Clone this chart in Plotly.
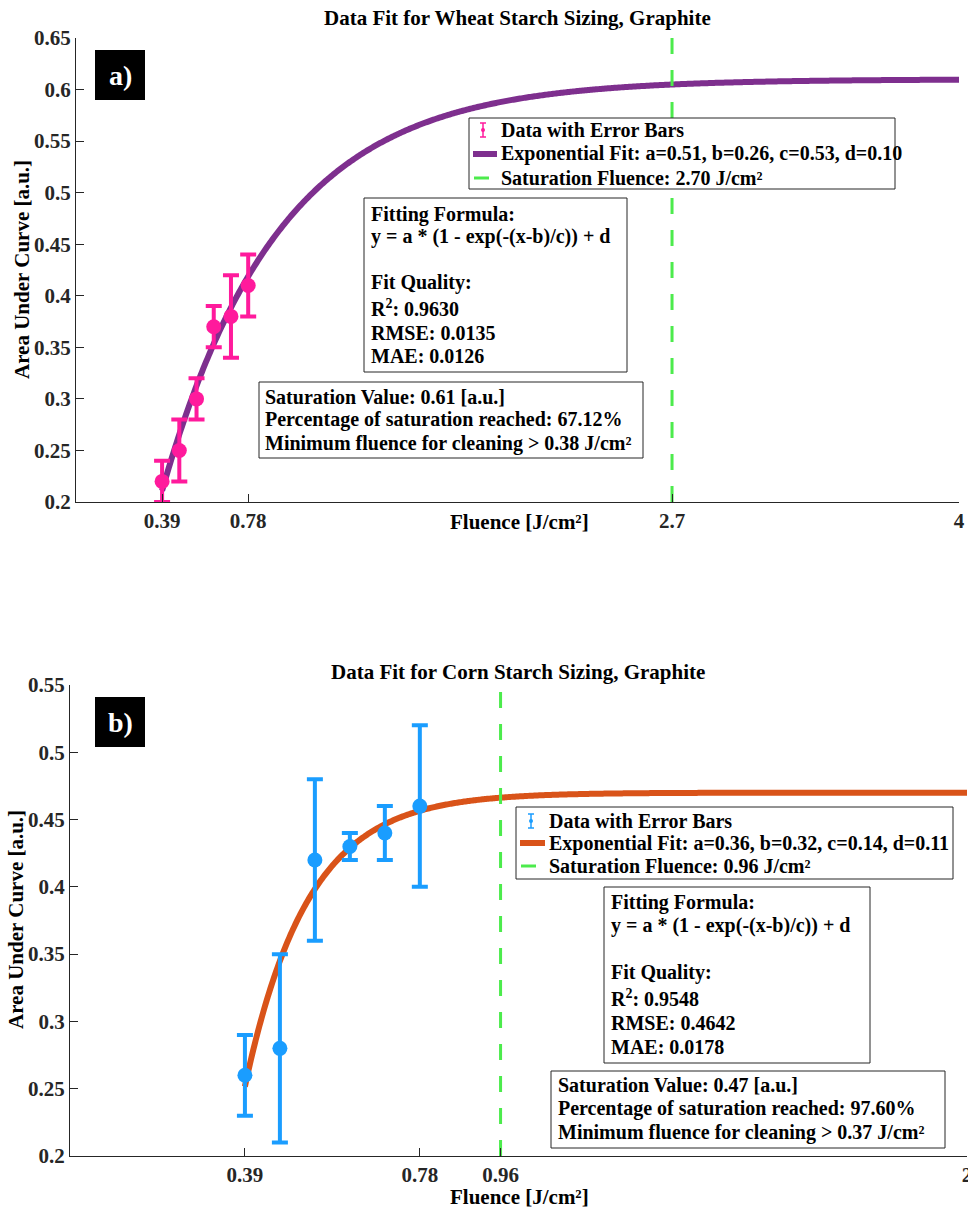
import numpy as np
import plotly.graph_objects as go

W, H = 968, 1209
FONT = "Liberation Serif, Times New Roman, serif"
INK = "#262626"

# ---------------- data ----------------
fluence = [0.39, 0.468, 0.546, 0.624, 0.702, 0.78]

wheat_auc = [0.22, 0.25, 0.30, 0.37, 0.38, 0.41]
wheat_err = [0.02, 0.03, 0.02, 0.02, 0.04, 0.03]
wheat_fit = [0.51, 0.26, 0.53, 0.10]          # a, b, c, d
wheat_sat_fluence = 2.70
wheat_stats = ["0.9630", "0.0135", "0.0126"]   # R2, RMSE, MAE
wheat_sat_info = ["0.61", "67.12", "0.38"]     # saturation value, %, min fluence

corn_auc = [0.26, 0.28, 0.42, 0.43, 0.44, 0.46]
corn_err = [0.03, 0.07, 0.06, 0.01, 0.02, 0.06]
corn_fit = [0.36, 0.32, 0.14, 0.11]
corn_sat_fluence = 0.96
corn_stats = ["0.9548", "0.4642", "0.0178"]
corn_sat_info = ["0.47", "97.60", "0.37"]

top_xticks = [0.39, 0.78, 2.7, 4]
top_xticklabels = ["0.39", "0.78", "2.7", "4"]
top_yticks = [0.2, 0.25, 0.3, 0.35, 0.4, 0.45, 0.5, 0.55, 0.6, 0.65]
top_yticklabels = ["0.2", "0.25", "0.3", "0.35", "0.4", "0.45", "0.5", "0.55", "0.6", "0.65"]
bot_xticks = [0.39, 0.78, 0.96, 2]
bot_xticklabels = ["0.39", "0.78", "0.96", "2"]
bot_yticks = [0.2, 0.25, 0.3, 0.35, 0.4, 0.45, 0.5, 0.55]
bot_yticklabels = ["0.2", "0.25", "0.3", "0.35", "0.4", "0.45", "0.5", "0.55"]

top_xrange = [0, 4]
top_yrange = [0.2, 0.65]
bot_xrange = [0, 2]
bot_yrange = [0.2, 0.55]

PINK = "#FF1A9C"
PURPLE = "#7E2F8E"
BLUE = "#1A9DFF"
ORANGE = "#D95319"
GREEN = "#4CEB4C"


def px(x):
    return x / W


def py(y):
    return 1 - y / H


def model(p, x):
    a, b, c, d = p
    return a * (1 - np.exp(-(x - b) / c)) + d


def fit_label(p):
    return "Exponential Fit: a=%.2f, b=%.2f, c=%.2f, d=%.2f" % tuple(p)


DATA_LABEL = "Data with Error Bars"


def sat_label(v):
    return "Saturation Fluence: %.2f J/cm²" % v


fig = go.Figure()

# ---------------- top panel ----------------
xf = np.linspace(fluence[0], top_xrange[1], 600)
fig.add_trace(go.Scatter(
    x=xf, y=model(wheat_fit, xf), mode="lines",
    line=dict(color=PURPLE, width=6, simplify=False), name=fit_label(wheat_fit),
    showlegend=False, xaxis="x", yaxis="y"))
fig.add_trace(go.Scatter(
    x=[wheat_sat_fluence, wheat_sat_fluence], y=top_yrange, mode="lines",
    line=dict(color=GREEN, width=3, dash="16px,16px"),
    name=sat_label(wheat_sat_fluence), showlegend=False, xaxis="x", yaxis="y"))
fig.add_trace(go.Scatter(
    x=fluence, y=wheat_auc, mode="markers",
    marker=dict(color=PINK, size=15),
    error_y=dict(type="data", array=wheat_err, color=PINK, thickness=4, width=8),
    name=DATA_LABEL, showlegend=False, xaxis="x", yaxis="y"))

# ---------------- bottom panel ----------------
xf2 = np.linspace(fluence[0], bot_xrange[1], 600)
fig.add_trace(go.Scatter(
    x=xf2, y=model(corn_fit, xf2), mode="lines",
    line=dict(color=ORANGE, width=6, simplify=False), name=fit_label(corn_fit),
    showlegend=False, xaxis="x2", yaxis="y2"))
fig.add_trace(go.Scatter(
    x=[corn_sat_fluence, corn_sat_fluence], y=bot_yrange, mode="lines",
    line=dict(color=GREEN, width=3, dash="16px,16px"),
    name=sat_label(corn_sat_fluence), showlegend=False, xaxis="x2", yaxis="y2"))
fig.add_trace(go.Scatter(
    x=fluence, y=corn_auc, mode="markers",
    marker=dict(color=BLUE, size=15),
    error_y=dict(type="data", array=corn_err, color=BLUE, thickness=4, width=8),
    name=DATA_LABEL, showlegend=False, xaxis="x2", yaxis="y2"))

tickfont = dict(family=FONT, size=21, color=INK, weight="bold")
axcommon = dict(showgrid=False, zeroline=False, showline=True, linecolor=INK,
                linewidth=1, ticks="inside", ticklen=8, tickwidth=1,
                tickcolor=INK, tickfont=tickfont, tickmode="array",
                automargin=False, mirror=False, ticklabeloverflow="allow")

fig.update_layout(
    template="none",
    width=W, height=H, autosize=False,
    margin=dict(l=0, r=0, t=0, b=0, pad=0),
    paper_bgcolor="white", plot_bgcolor="white",
    showlegend=False,
    xaxis=dict(domain=[px(76), px(959)], range=top_xrange, anchor="y",
               tickvals=top_xticks, ticktext=top_xticklabels, **axcommon),
    yaxis=dict(domain=[py(502), py(38)], range=top_yrange, anchor="x",
               tickvals=top_yticks, ticktext=top_yticklabels, **axcommon),
    xaxis2=dict(domain=[px(70), px(967)], range=bot_xrange, anchor="y2",
                tickvals=bot_xticks, ticktext=bot_xticklabels, **axcommon),
    yaxis2=dict(domain=[py(1156), py(685)], range=bot_yrange, anchor="x2",
                tickvals=bot_yticks, ticktext=bot_yticklabels, **axcommon),
)

annos = []
shapes = []


def text_at(x, y, text, size=20, angle=0, xa="center", ya="middle", color="black"):
    annos.append(dict(x=px(x), y=py(y), xref="paper", yref="paper", text=text,
                      showarrow=False, textangle=angle, xanchor=xa, yanchor=ya,
                      font=dict(family=FONT, size=size, color=color, weight="bold")))


def rect(x0, y0, x1, y1, fill="white", line=INK, lw=1):
    shapes.append(dict(type="rect", xref="paper", yref="paper",
                       x0=px(x0), x1=px(x1), y0=py(y0), y1=py(y1),
                       fillcolor=fill, line=dict(color=line, width=lw), layer="above"))


def seg(x0, y0, x1, y1, color, lw):
    shapes.append(dict(type="line", xref="paper", yref="paper",
                       x0=px(x0), x1=px(x1), y0=py(y0), y1=py(y1),
                       line=dict(color=color, width=lw), layer="above"))


def dot(cx, cy, r, color):
    shapes.append(dict(type="circle", xref="paper", yref="paper",
                       x0=px(cx - r), x1=px(cx + r), y0=py(cy + r), y1=py(cy - r),
                       fillcolor=color, line=dict(color=color, width=0), layer="above"))


def text_box(box, tx, ys, lines):
    rect(*box)
    for yc, t in zip(ys, lines):
        text_at(tx, yc, t, size=20, xa="left")


def legend_box(box, tx, ys, data_color, fit_color, labels):
    x0 = box[0]
    rect(*box)
    # error-bar icon
    ix = tx - 16
    seg(ix, ys[0] - 7, ix, ys[0] + 7, data_color, 1.5)
    seg(ix - 3, ys[0] - 7, ix + 3, ys[0] - 7, data_color, 1.5)
    seg(ix - 3, ys[0] + 7, ix + 3, ys[0] + 7, data_color, 1.5)
    dot(ix, ys[0], 2, data_color)
    # fit line icon
    seg(x0 + 4, ys[1], tx - 2, ys[1], fit_color, 6)
    # saturation line icon
    seg(x0 + 5, ys[2], x0 + 20, ys[2], GREEN, 3)
    for yc, t in zip(ys, labels):
        text_at(tx, yc, t, size=20, xa="left")


def fit_lines(stats):
    return ["Fitting Formula:", "y = a * (1 - exp(-(x-b)/c)) + d",
            "Fit Quality:", "R<sup>2</sup>: %s" % stats[0],
            "RMSE: %s" % stats[1], "MAE: %s" % stats[2]]


def sat_lines(info):
    return ["Saturation Value: %s [a.u.]" % info[0],
            "Percentage of saturation reached: %s%%" % info[1],
            "Minimum fluence for cleaning > %s J/cm²" % info[2]]


def tag(x, y, text):
    rect(x, y, x + 50, y + 50, fill="black", line="black", lw=0)
    text_at(x + 25, y + 25, text, size=28, color="white")


# ---------------- top panel texts ----------------
text_at(517, 18, "Data Fit for Wheat Starch Sizing, Graphite", size=21)
text_at(22, 270, "Area Under Curve [a.u.]", size=21, angle=-90)
text_at(519, 522, "Fluence [J/cm²]", size=21)
tag(95, 50, "a)")
legend_box((469, 118, 895, 189), 499, [130, 154, 178], PINK, PURPLE,
           [DATA_LABEL, fit_label(wheat_fit), sat_label(wheat_sat_fluence)])
text_box((364, 198, 627, 372), 369, [214, 237, 282, 308, 333, 356], fit_lines(wheat_stats))
text_box((259, 382, 643, 458), 263, [397, 420, 443], sat_lines(wheat_sat_info))

# ---------------- bottom panel texts ----------------
text_at(518, 672, "Data Fit for Corn Starch Sizing, Graphite", size=21)
text_at(16, 920, "Area Under Curve [a.u.]", size=21, angle=-90)
text_at(519, 1197, "Fluence [J/cm²]", size=21)
tag(95, 697, "b)")
legend_box((516, 807, 953, 879), 547, [821, 843, 866], BLUE, ORANGE,
           [DATA_LABEL, fit_label(corn_fit), sat_label(corn_sat_fluence)])
text_box((604, 887, 870, 1063), 609, [902, 925, 972, 998, 1023, 1047], fit_lines(corn_stats))
text_box((551, 1071, 945, 1148), 556, [1085, 1108, 1132], sat_lines(corn_sat_info))

fig.update_layout(annotations=annos, shapes=shapes)

fig.write_html("out.html")
